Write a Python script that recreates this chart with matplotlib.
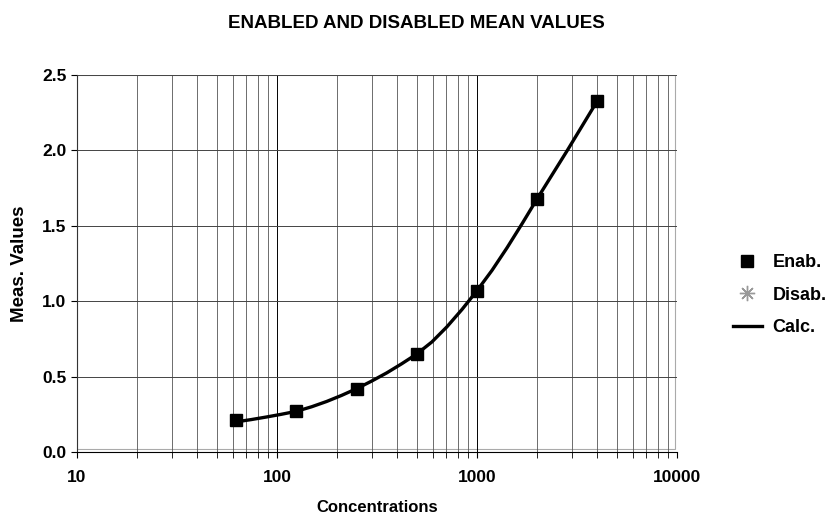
import matplotlib.pyplot as plt
from matplotlib.patches import Rectangle
from matplotlib.ticker import LogLocator, FixedLocator, NullFormatter

plt.rcParams['font.family'] = ['Liberation Sans', 'DejaVu Sans']
plt.rcParams['font.weight'] = 'bold'

# measured (enabled) points
conc = [62.5, 125, 250, 500, 1000, 2000, 4000]
enab = [0.21, 0.27, 0.42, 0.65, 1.07, 1.68, 2.33]
# disabled points (none shown)
disab_x = []
disab_y = []
# calculated curve (quarter-octave steps)
calc_x = [62.5, 74.3, 88.4, 105, 125, 149, 177, 210, 250, 297, 354, 420, 500,
          595, 707, 841, 1000, 1189, 1414, 1682, 2000, 2378, 2828, 3364, 4000]
calc_y = [0.20, 0.215, 0.232, 0.25, 0.27, 0.30, 0.335, 0.375, 0.42, 0.47, 0.525, 0.585, 0.65,
          0.73, 0.83, 0.945, 1.07, 1.205, 1.355, 1.515, 1.68, 1.84, 2.00, 2.165, 2.33]

fig = plt.figure(figsize=(8.33, 5.18), dpi=100)
ax = fig.add_axes([0.0924, 0.1274, 0.7203, 0.7276])

ax.plot(calc_x, calc_y, color='black', lw=2.4, label='Calc.', zorder=3)
ax.plot(disab_x, disab_y, ls='none', marker=(8, 2, 0), ms=11, color='#999999',
        mew=1, label='Disab.', zorder=4)
ax.plot(conc, enab, ls='none', marker='s', ms=8, color='black', label='Enab.', zorder=5)

ax.set_xscale('log')
ax.set_xlim(10, 10000)
ax.set_ylim(0, 2.5)
ax.set_yticks([0, 0.5, 1.0, 1.5, 2.0, 2.5])
ax.set_yticklabels(['0.0', '0.5', '1.0', '1.5', '2.0', '2.5'])
ax.xaxis.set_major_locator(FixedLocator([10, 100, 1000, 10000]))
ax.set_xticklabels(['10', '100', '1000', '10000'])
ax.xaxis.set_minor_locator(LogLocator(base=10, subs=range(2, 10)))
ax.xaxis.set_minor_formatter(NullFormatter())

ax.grid(True, which='major', axis='both', color='black', lw=0.7)
ax.grid(True, which='minor', axis='x', color='#555555', lw=0.6)
ax.grid(True, which='major', axis='y', color='#444444', lw=0.7)

# light plot-area border
ax.add_patch(Rectangle((0, 0.008), 0.997, 0.992, transform=ax.transAxes,
                       fill=False, ec='#aaaaaa', lw=0.8, zorder=1))

for s in ['top', 'right']:
    ax.spines[s].set_visible(False)
ax.spines['left'].set_color('#333333')
ax.spines['bottom'].set_color('black')
ax.tick_params(axis='both', which='major', direction='out', length=4, labelsize=12.5)
ax.tick_params(axis='x', which='minor', direction='out', length=4)
ax.tick_params(axis='x', which='major', pad=9)

ax.set_xlabel('Concentrations', fontsize=12, fontweight='bold', labelpad=11)
ax.set_ylabel('Meas. Values', fontsize=13.5, fontweight='bold', labelpad=10)
fig.text(0.5, 0.955, 'ENABLED AND DISABLED MEAN VALUES', ha='center', va='center',
         fontsize=13.5, fontweight='bold')

h, l = ax.get_legend_handles_labels()
order = [2, 1, 0]
leg = fig.legend([h[i] for i in order], [l[i] for i in order], loc='center left',
                 bbox_to_anchor=(0.86, 0.43), frameon=False, fontsize=13,
                 handlelength=1.6, handletextpad=0.6, labelspacing=0.85)

fig.savefig('out.png', dpi=100)
